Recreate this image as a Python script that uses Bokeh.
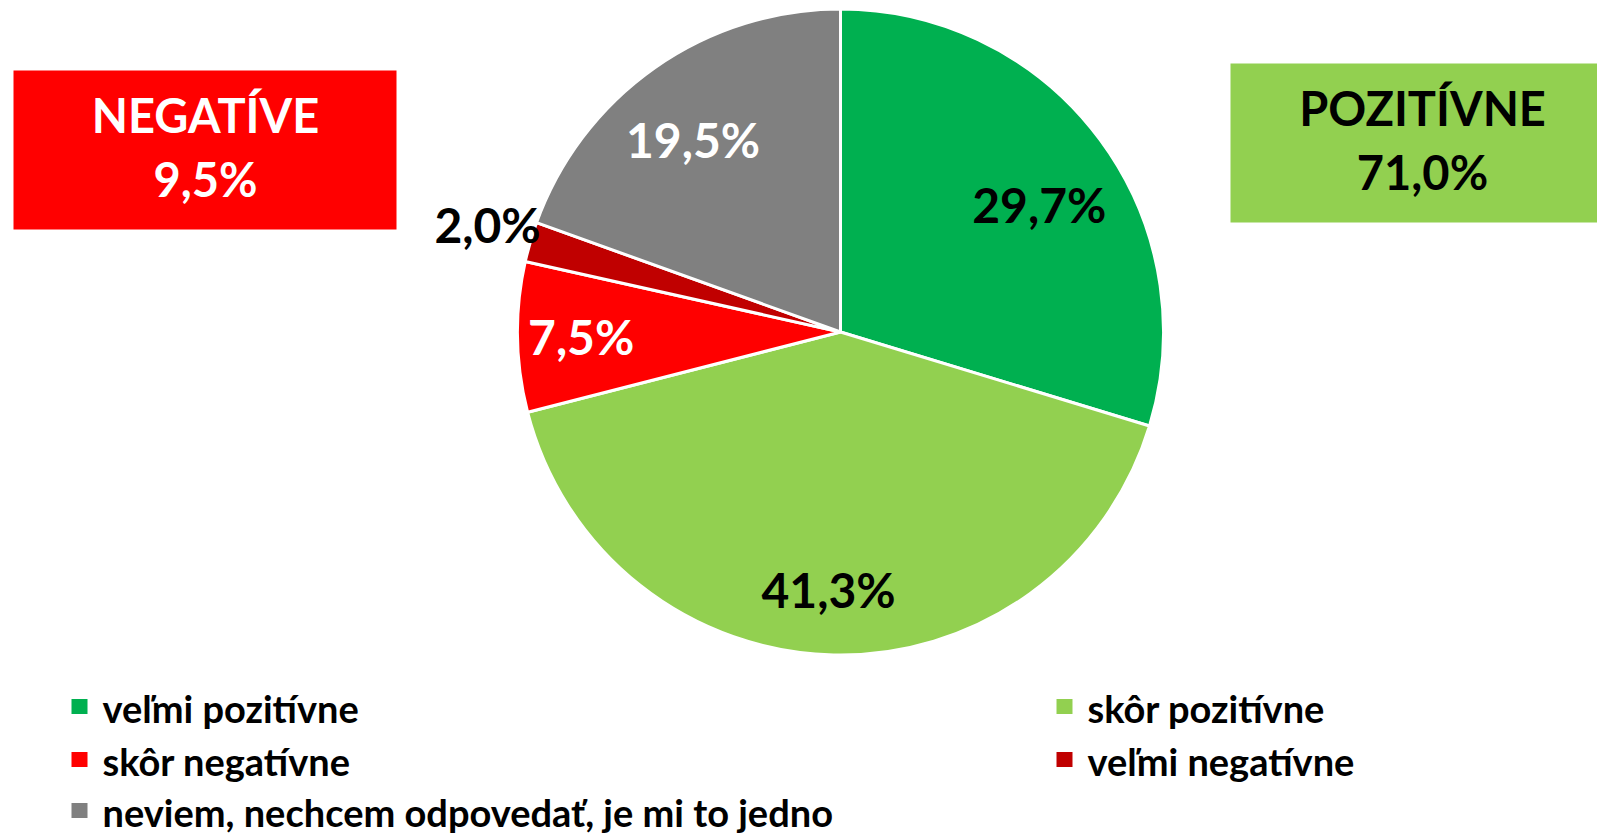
import numpy as np
from bokeh.plotting import figure
from bokeh.models import Range1d, ColumnDataSource
from bokeh.core.properties import value
from bokeh.embed import file_html
from bokeh.resources import INLINE

# ---- data ----
categories = ["veľmi pozitívne", "skôr pozitívne", "skôr negatívne", "veľmi negatívne",
              "neviem, nechcem odpovedať, je mi to jedno"]
shares = [29.7, 41.3, 7.5, 2.0, 19.5]
colors = ["#00B050", "#92D050", "#FF0000", "#C00000", "#808080"]
label_colors = ["black", "black", "white", "black", "white"]
summary_titles = ["NEGATÍVE", "POZITÍVNE"]
summary_values = [9.5, 71.0]

# ---- style / layout ----
FONT = "Lato"
W, H = 1597, 836

def Y(sy):
    return H - sy

p = figure(width=W, height=H, output_backend="svg", toolbar_location=None,
           x_range=Range1d(0, W), y_range=Range1d(0, H),
           min_border=0, outline_line_color=None)
p.axis.visible = False
p.grid.visible = False
p.background_fill_color = "white"
p.border_fill_color = "white"

cx, cy, R = 840, Y(331.5), 323
frac = np.array(shares) / sum(shares)
cum = np.concatenate([[0], np.cumsum(frac)])
start = np.pi / 2 - 2 * np.pi * cum[:-1]
end = np.pi / 2 - 2 * np.pi * cum[1:]
src = ColumnDataSource(dict(start=start, end=end, color=colors))
p.wedge(x=cx, y=cy, radius=R, start_angle="start", end_angle="end", direction="clock",
        fill_color="color", line_color="white", line_width=3, source=src)

# data labels (placed around each slice's mid-angle)
label_r = [0.731, 0.797, 0.803, 1.142, 0.75]
label_shift_deg = [-3.9, -1.4, 0.0, -0.7, 2.4]
mid = (start + end) / 2 + np.radians(label_shift_deg)
lx = [cx + R * r * np.cos(a) for r, a in zip(label_r, mid)]
ly = [cy + R * r * np.sin(a) for r, a in zip(label_r, mid)]
ltxt = [f"{v:.1f}%".replace(".", ",") for v in shares]
p.text(x=lx, y=ly, text=ltxt, text_color=label_colors, text_font=value(FONT),
       text_font_style="bold", text_font_size="48px", text_align="center",
       text_baseline="middle")

# summary boxes
p.quad(left=[13, 1230], right=[396, 1600], top=[Y(70), Y(63)], bottom=[Y(229), Y(222)],
       fill_color=["#FF0000", "#92D050"], line_color=None)
bx = [205, 1422]
p.text(x=bx, y=[Y(114), Y(107)], text=summary_titles, text_color=["white", "black"],
       text_font=value(FONT), text_font_style="bold", text_font_size="47px",
       text_align="center", text_baseline="middle")
p.text(x=bx, y=[Y(178), Y(171)], text=[f"{v:.1f}%".replace(".", ",") for v in summary_values],
       text_color=["white", "black"], text_font=value(FONT), text_font_style="bold",
       text_font_size="47px", text_align="center", text_baseline="middle")

# legend
leg_x = [71, 1056, 71, 1056, 71]
leg_y = [706, 706, 759, 759, 810]
p.rect(x=[x + 8 for x in leg_x], y=[Y(y) for y in leg_y], width=16, height=15,
       fill_color=colors, line_color=None)
p.text(x=[x + 31 for x in leg_x], y=[Y(y + 1) for y in leg_y], text=categories,
       text_color="black", text_font=value(FONT), text_font_style="bold",
       text_font_size="38px", text_align="left", text_baseline="middle")

open("out.html", "w").write(file_html(p, INLINE))
